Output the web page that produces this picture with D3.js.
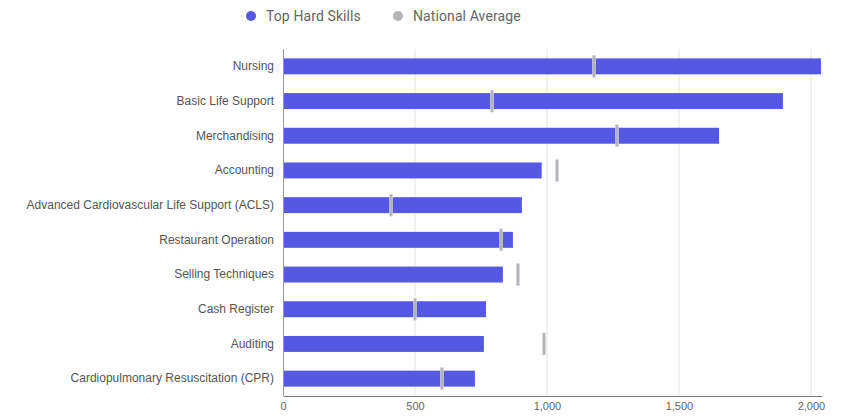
<!DOCTYPE html>
<html><head><meta charset="utf-8">
<script src="https://cdn.jsdelivr.net/npm/d3@7"></script>
<style>
html,body{margin:0;padding:0;background:#fff;}
svg{display:block;font-family:"Liberation Sans",Arial,sans-serif;}
</style></head>
<body><svg id="c" width="855" height="417"></svg>
<script>
const categories = ["Nursing","Basic Life Support","Merchandising","Accounting","Advanced Cardiovascular Life Support (ACLS)","Restaurant Operation","Selling Techniques","Cash Register","Auditing","Cardiopulmonary Resuscitation (CPR)"];
const topHardSkills = [2038,1894,1652,980,905,871,833,769,761,727];
const nationalAverage = [1178,792,1265,1038,409,826,890,500,989,602];
const xTicks = [0,500,1000,1500,2000];
const seriesNames = ["Top Hard Skills","National Average"];

const svg = d3.select("#c");
const m = {l:283, r:822, t:49, b:396};
const x = d3.scaleLinear().domain([0,2042]).range([m.l,m.r]);
const y = d3.scaleBand().domain(categories).range([m.t,m.b]).paddingInner(0.54).paddingOuter(0.27);

// gridlines
svg.append("g").selectAll("line").data(xTicks.slice(1)).join("line")
  .attr("x1",d=>x(d)).attr("x2",d=>x(d)).attr("y1",m.t).attr("y2",m.b)
  .attr("stroke","#e3e3e3").attr("stroke-width",1);

// bars
svg.append("g").selectAll("rect").data(categories).join("rect")
  .attr("x",x(0)).attr("y",d=>y(d))
  .attr("width",(d,i)=>x(topHardSkills[i])-x(0))
  .attr("height",y.bandwidth())
  .attr("fill","#5558e3");

// national average markers
svg.append("g").selectAll("rect").data(categories).join("rect")
  .attr("x",(d,i)=>x(nationalAverage[i])-1.5)
  .attr("y",d=>y(d)-3)
  .attr("width",3)
  .attr("height",y.bandwidth()+6)
  .attr("fill","#b4b4b4")
  .attr("stroke","#d8d8e8").attr("stroke-width",0.6);

// left axis line
svg.append("line").attr("x1",m.l+0.5).attr("x2",m.l+0.5).attr("y1",m.t).attr("y2",m.b)
  .attr("stroke","#999");

// y labels
const ya = d3.axisLeft(y).tickSize(0).tickPadding(9);
const yg = svg.append("g").attr("transform",`translate(${m.l},0)`).call(ya);
yg.select(".domain").remove();
yg.selectAll("text").attr("font-size",12).attr("fill","#555").attr("font-family","'Liberation Sans',Arial,sans-serif");

// x axis
const xa = d3.axisBottom(x).tickValues(xTicks).tickSize(0).tickPadding(6).tickFormat(d3.format(","));
const xg = svg.append("g").attr("transform",`translate(0,${m.b})`).call(xa);
xg.select(".domain").attr("stroke","#777");
xg.selectAll("text").attr("font-size",11).attr("fill","#666").attr("font-family","'Liberation Sans',Arial,sans-serif");

// legend
const legendColors = ["#5558e3","#b4b4b4"];
const lg = svg.append("g");
const lx = [251,398];
seriesNames.forEach((n,i)=>{
  lg.append("circle").attr("cx",lx[i]).attr("cy",16).attr("r",5).attr("fill",legendColors[i]);
  lg.append("text").attr("x",lx[i]+15).attr("y",21).attr("font-size",14).attr("letter-spacing","0.1px").attr("fill","#666")
    .attr("font-family","Roboto,'Liberation Sans',sans-serif").text(n);
});
</script></body></html>
